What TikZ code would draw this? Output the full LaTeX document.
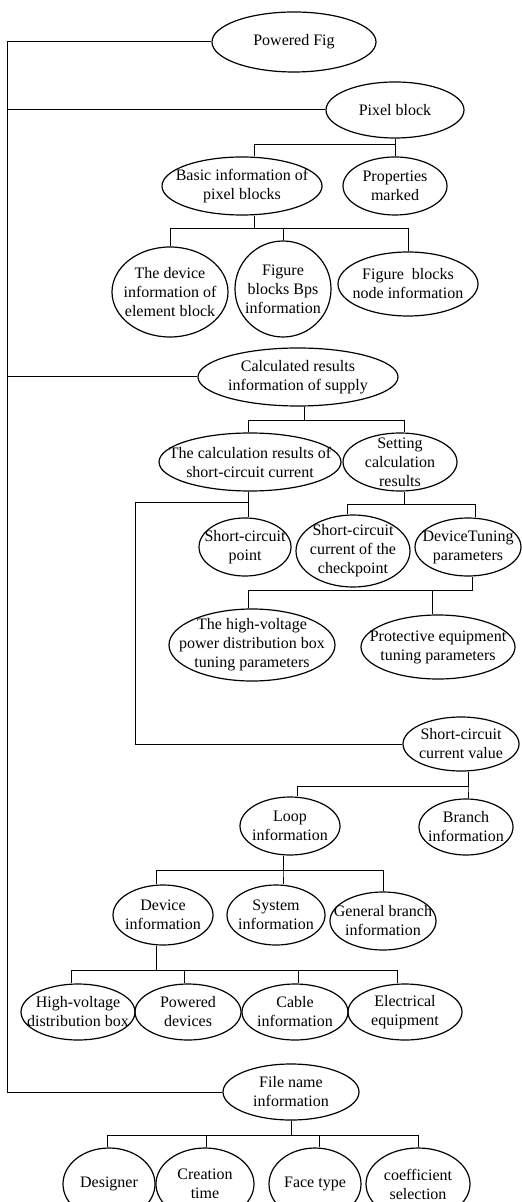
\documentclass[tikz,border=0pt]{standalone}
\usepackage{fontspec}
\setmainfont{Liberation Serif}
\usetikzlibrary{shapes.geometric}

\tikzstyle{info} = [ellipse,draw,line width=0.6pt,inner sep=-30pt,align=center,font=\fontsize{8}{9.5}\selectfont]
\tikzstyle{link} = [line width=0.5pt]

\begin{document}
\begin{tikzpicture}[x=0.5pt,y=-0.5pt]
	\useasboundingbox (0,0) rectangle (521,1202);
	% main branches
	\node[info,minimum width=82pt,minimum height=30pt] (powered) at (294,42) {Powered Fig};
	\node[info,minimum width=69pt,minimum height=28pt] (pixel) at (395,110) {Pixel block};
	\node[info,minimum width=80pt,minimum height=29pt] (basic) at (242,186) {Basic information of\\pixel blocks};
	\node[info,minimum width=52pt,minimum height=29pt] (props) at (395,186) {Properties\\marked};
	\node[info,minimum width=58pt,minimum height=45pt] (devblk) at (170,292) {The device\\information of\\element block};
	\node[info,minimum width=48pt,minimum height=48pt] (bps) at (283,289) {Figure\\blocks Bps\\information};
	\node[info,minimum width=70pt,minimum height=32pt] (fbnode) at (408,284) {Figure\ \ blocks\\node information};
	\node[info,minimum width=100pt,minimum height=29pt] (calc) at (298,377) {Calculated results\\information of supply};
	\node[info,minimum width=91pt,minimum height=29pt] (sccalc) at (250,462) {The calculation results of\\short-circuit current};
	\node[info,minimum width=57pt,minimum height=29pt] (setting) at (400,462) {Setting\\calculation\\results};
	\node[info,minimum width=46pt,minimum height=29pt] (scpoint) at (245,547) {Short-circuit\\point};
	\node[info,minimum width=57pt,minimum height=36pt] (check) at (353,551) {Short-circuit\\current of the\\checkpoint};
	\node[info,minimum width=53pt,minimum height=29pt] (tuning) at (468,547) {DeviceTuning\\parameters};
	\node[info,minimum width=83pt,minimum height=36pt] (hvtune) at (252,645) {The high-voltage\\power distribution box\\tuning parameters};
	\node[info,minimum width=77pt,minimum height=32pt] (protune) at (438,647) {Protective equipment\\tuning parameters};
	\node[info,minimum width=58pt,minimum height=27pt] (scvalue) at (461,744) {Short-circuit\\current value};
	\node[info,minimum width=50pt,minimum height=29pt] (loopinf) at (290,826) {Loop\\information};
	\node[info,minimum width=47pt,minimum height=28pt] (branch) at (466,827) {Branch\\information};
	\node[info,minimum width=50pt,minimum height=30pt] (devinf) at (163,915) {Device\\information};
	\node[info,minimum width=49pt,minimum height=30pt] (sysinf) at (276,915) {System\\information};
	\node[info,minimum width=53pt,minimum height=29pt] (genbr) at (383,921) {General branch\\information};
	\node[info,minimum width=57pt,minimum height=28pt] (hvbox) at (78,1012) {High-voltage\\distribution box};
	\node[info,minimum width=53pt,minimum height=28pt] (powdev) at (188,1012) {Powered\\devices};
	\node[info,minimum width=53pt,minimum height=28pt] (cable) at (295,1012) {Cable\\information};
	\node[info,minimum width=57pt,minimum height=28pt] (elec) at (405,1012) {Electrical\\equipment};
	\node[info,minimum width=68pt,minimum height=28pt] (filename) at (291,1092) {File name\\information};
	\node[info,minimum width=46pt,minimum height=36pt] (designer) at (109,1184) {Designer};
	\node[info,minimum width=49pt,minimum height=36pt] (ctime) at (205,1184) {Creation\\time};
	\node[info,minimum width=46pt,minimum height=36pt] (face) at (315,1184) {Face type};
	\node[info,minimum width=52pt,minimum height=36pt] (coef) at (418,1184) {coefficient\\selection};
	% left trunk
	\coordinate (trunk) at (7,42);
	\coordinate (bend) at (135,502);
	\draw[link] (powered.west) -- (trunk) |- (filename.west);
	\draw[link] (pixel.west) -- (pixel.west -| trunk);
	\draw[link] (calc.west) -- (calc.west -| trunk);
	% pixel block
	\draw[link] (pixel.south) -- (props.north);
	\draw[link] (pixel.south) -- ++(0,6) -| ([xshift=6pt]basic.north);
	\draw[link] ([xshift=6pt]basic.south) -- ++(0,13) -| (devblk.north);
	\draw[link] ([xshift=6pt]basic.south) -- ++(0,13) -| (bps.north);
	\draw[link] ([xshift=6pt]basic.south) -- ++(0,13) -| (fbnode.north);
	% calculated results
	\draw[link] ([xshift=3pt]calc.south) -- ++(0,14) -| ([xshift=-1pt]sccalc.north);
	\draw[link] ([xshift=3pt]calc.south) -- ++(0,14) -| ([xshift=2pt]setting.north);
	\draw[link] ([xshift=-1pt]sccalc.south) -- ([xshift=1.5pt]scpoint.north);
	\draw[link] ([xshift=-1pt]sccalc.south) |- (bend) |- (scvalue.west);
	\draw[link] ([xshift=2pt]setting.south) -- ++(0,13) -| ([xshift=-3pt]check.north);
	\draw[link] ([xshift=2pt]setting.south) -- ++(0,13) -| ([xshift=3.5pt]tuning.north);
	\draw[link] ([xshift=2pt]tuning.south) -- ++(0,14) -| ([xshift=-2pt]hvtune.north);
	\draw[link] ([xshift=2pt]tuning.south) -- ++(0,14) -| ([xshift=-3pt]protune.north);
	% short-circuit current value
	\draw[link] ([xshift=3.5pt]scvalue.south) -- ++(0,15) -| ([xshift=3.5pt]loopinf.north);
	\draw[link] ([xshift=3.5pt]scvalue.south) -- ++(0,15) -| ([xshift=1pt]branch.north);
	\draw[link] ([xshift=-3.5pt]loopinf.south) -- ++(0,15) -| ([xshift=-3.5pt]devinf.north);
	\draw[link] ([xshift=-3.5pt]loopinf.south) -- ++(0,15) -| ([xshift=3.5pt]sysinf.north);
	\draw[link] ([xshift=-3.5pt]loopinf.south) -- ++(0,15) -| (genbr.north);
	\draw[link] ([xshift=-3.5pt]devinf.south) -- ++(0,25) -| ([xshift=-3.5pt]hvbox.north);
	\draw[link] ([xshift=-3.5pt]devinf.south) -- ++(0,25) -| ([xshift=-2pt]powdev.north);
	\draw[link] ([xshift=-3.5pt]devinf.south) -- ++(0,25) -| ([xshift=1.5pt]cable.north);
	\draw[link] ([xshift=-3.5pt]devinf.south) -- ++(0,25) -| ([xshift=-4pt]elec.north);
	% file name
	\draw[link] (filename.south) -- ++(0,15) -| ([xshift=-1pt]designer.north);
	\draw[link] (filename.south) -- ++(0,15) -| ([xshift=0.5pt]ctime.north);
	\draw[link] (filename.south) -- ++(0,15) -| ([xshift=2pt]face.north);
	\draw[link] (filename.south) -- ++(0,15) -| (coef.north);
\end{tikzpicture}
\end{document}
